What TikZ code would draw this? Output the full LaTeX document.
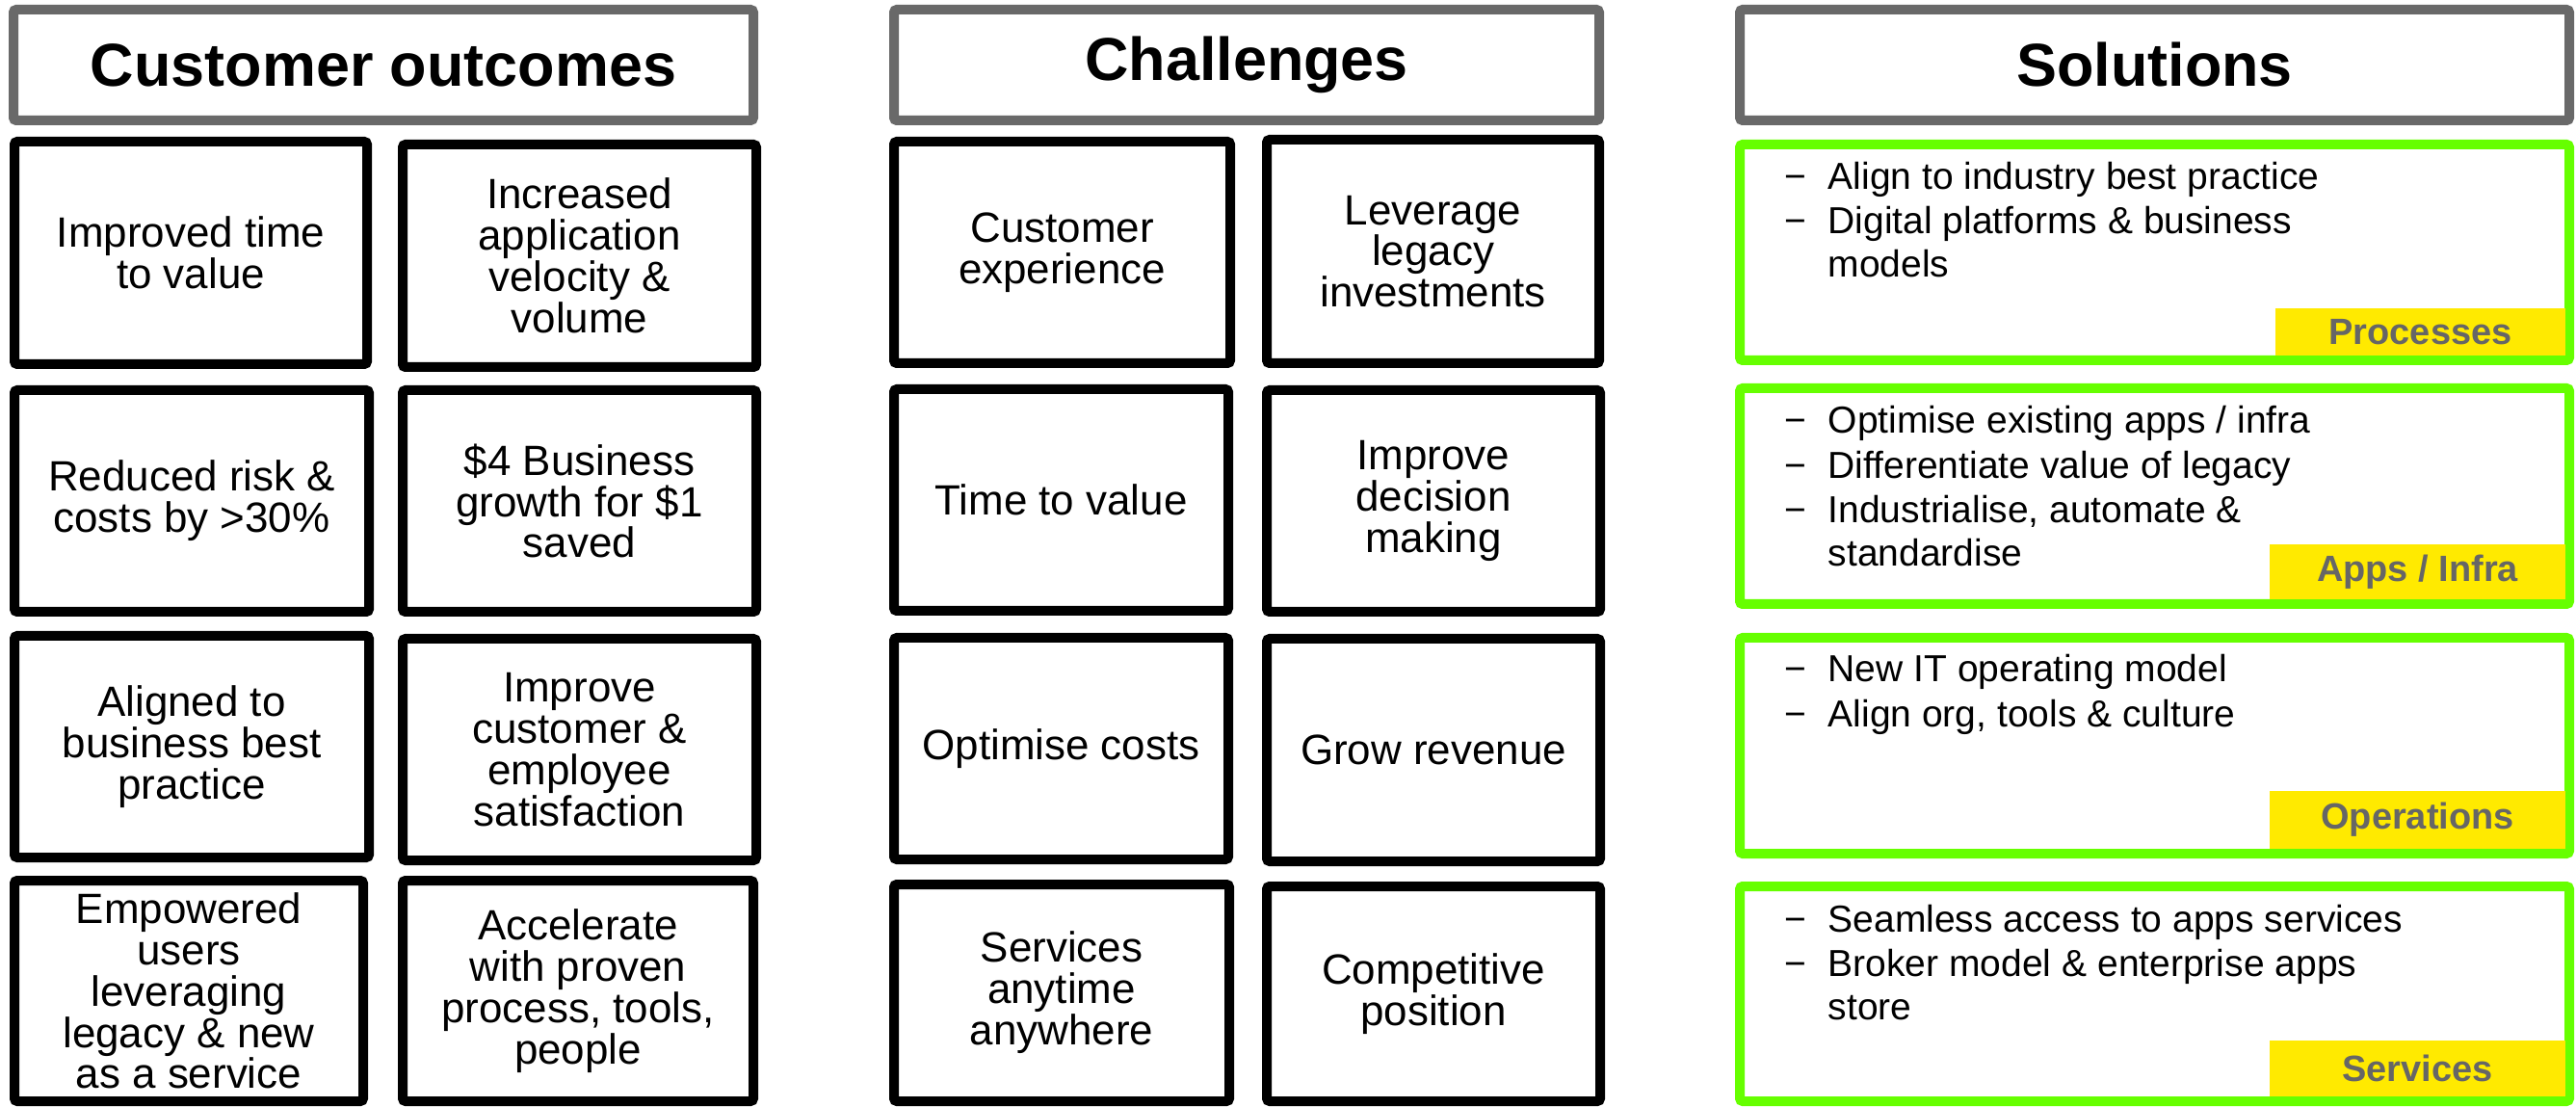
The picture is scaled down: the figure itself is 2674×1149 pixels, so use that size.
\documentclass[tikz,border=0pt]{standalone}
\usepackage{fontspec}
\setmainfont{Liberation Sans}
\definecolor{hdrgray}{RGB}{105,105,105}
\definecolor{limegr}{RGB}{102,255,0}
\definecolor{tabyellow}{RGB}{255,234,0}
\definecolor{tabtext}{RGB}{102,102,102}
\tikzset{
  cellbox/.style={draw=black, line width=1mm, rounded corners=0.3mm, fill=white, align=center, inner sep=0pt,
    font=\fontsize{12.5pt}{12.2pt}\selectfont},
  hdrbox/.style={draw=hdrgray, line width=1mm, rounded corners=0.3mm, fill=white, inner sep=0pt,
    font=\fontsize{17.9pt}{20pt}\selectfont\bfseries},
  solbox/.style={draw=limegr, line width=1mm, rounded corners=0.3mm, fill=white, inner sep=0pt},
  tabbox/.style={fill=tabyellow, inner sep=0pt, text=tabtext, font=\fontsize{10.8pt}{12pt}\selectfont\bfseries},
  soltext/.style={anchor=base west, inner sep=0pt, font=\fontsize{11.1pt}{13pt}\selectfont}
}
% style, name, x0, y0, x1, y1, text  (outer edges, 10px border)
\newcommand\mkbox[7]{%
  \node[#1, minimum width={(#5-#3-10)*0.1mm}, minimum height={(#6-#4-10)*0.1mm}] (#2) at ({(#3+#5)/2},{(#4+#6)/2}) {#7};}
% name, x0, y0, x1, y1, text  (filled, no border)
\newcommand\mktab[6]{%
  \node[tabbox, minimum width={(#4-#2)*0.1mm}, minimum height={(#5-#3)*0.1mm}] (#1) at ({(#2+#4)/2},{(#3+#5)/2}) {#6};}
\newcommand\solline[3]{%
  \node[soltext] (#1) at (1897,#2) {#3};}
\newcommand\soldash[2]{%
  \node[soltext] (#1) at (1852,#2) {−};}
\begin{document}
\begin{tikzpicture}[x=0.1mm, y=-0.1mm]
\useasboundingbox (0,0) rectangle (2674,1149);

% headers
\mkbox{hdrbox}{h1}{9}{5}{787}{130}{Customer outcomes}
\mkbox{hdrbox}{h2}{923}{5}{1665}{130}{Challenges}
\mkbox{hdrbox}{h3}{1801}{5}{2672}{130}{Solutions}

% customer outcomes
\mkbox{cellbox}{a1}{10}{142}{386}{383}{Improved time\\to value}
\mkbox{cellbox}{b1}{413}{145}{790}{386}{Increased\\application\\velocity \&\\volume}
\mkbox{cellbox}{a2}{10}{400}{388}{640}{Reduced risk \&\\costs by >30\%}
\mkbox{cellbox}{b2}{413}{400}{790}{640}{\$4 Business\\growth for \$1\\saved}
\mkbox{cellbox}{a3}{10}{655}{388}{895}{Aligned to\\business best\\practice}
\mkbox{cellbox}{b3}{413}{658}{790}{898}{Improve\\customer \&\\employee\\satisfaction}
\mkbox{cellbox}{a4}{10}{909}{382}{1148}{Empowered\\users\\leveraging\\legacy \& new\\as a service}
\mkbox{cellbox}{b4}{413}{909}{787}{1148}{Accelerate\\with proven\\process, tools,\\people}

% challenges
\mkbox{cellbox}{c1}{923}{142}{1282}{382}{Customer\\experience}
\mkbox{cellbox}{d1}{1310}{140}{1665}{382}{Leverage\\legacy\\investments}
\mkbox{cellbox}{c2}{923}{399}{1280}{639}{Time to value}
\mkbox{cellbox}{d2}{1310}{400}{1666}{640}{Improve\\decision\\making}
\mkbox{cellbox}{c3}{923}{657}{1280}{897}{Optimise costs}
\mkbox{cellbox}{d3}{1310}{658}{1666}{899}{Grow revenue}
\mkbox{cellbox}{c4}{923}{913}{1281}{1148}{Services\\anytime\\anywhere}
\mkbox{cellbox}{d4}{1310}{915}{1666}{1148}{Competitive\\position}

% solutions
\mkbox{solbox}{s1}{1801}{145}{2672}{379}{}
\mkbox{solbox}{s2}{1801}{398}{2672}{632}{}
\mkbox{solbox}{s3}{1801}{657}{2672}{891}{}
\mkbox{solbox}{s4}{1801}{915}{2672}{1148}{}

\mktab{t1}{2362}{320}{2663}{369}{Processes}
\mktab{t2}{2356}{565}{2663}{622}{Apps / Infra}
\mktab{t3}{2356}{821}{2663}{881}{Operations}
\mktab{t4}{2356}{1080}{2663}{1138}{Services}

\soldash{s1d1}{197}\solline{s1l1}{197}{Align to industry best practice}
\soldash{s1d2}{243}\solline{s1l2}{243}{Digital platforms \& business}
\solline{s1l3}{288}{models}

\soldash{s2d1}{450}\solline{s2l1}{450}{Optimise existing apps / infra}
\soldash{s2d2}{497}\solline{s2l2}{497}{Differentiate value of legacy}
\soldash{s2d3}{543}\solline{s2l3}{543}{Industrialise, automate \&}
\solline{s2l4}{588}{standardise}

\soldash{s3d1}{708}\solline{s3l1}{708}{New IT operating model}
\soldash{s3d2}{755}\solline{s3l2}{755}{Align org, tools \& culture}

\soldash{s4d1}{967}\solline{s4l1}{967}{Seamless access to apps services}
\soldash{s4d2}{1013}\solline{s4l2}{1013}{Broker model \& enterprise apps}
\solline{s4l3}{1058}{store}
\end{tikzpicture}
\end{document}
